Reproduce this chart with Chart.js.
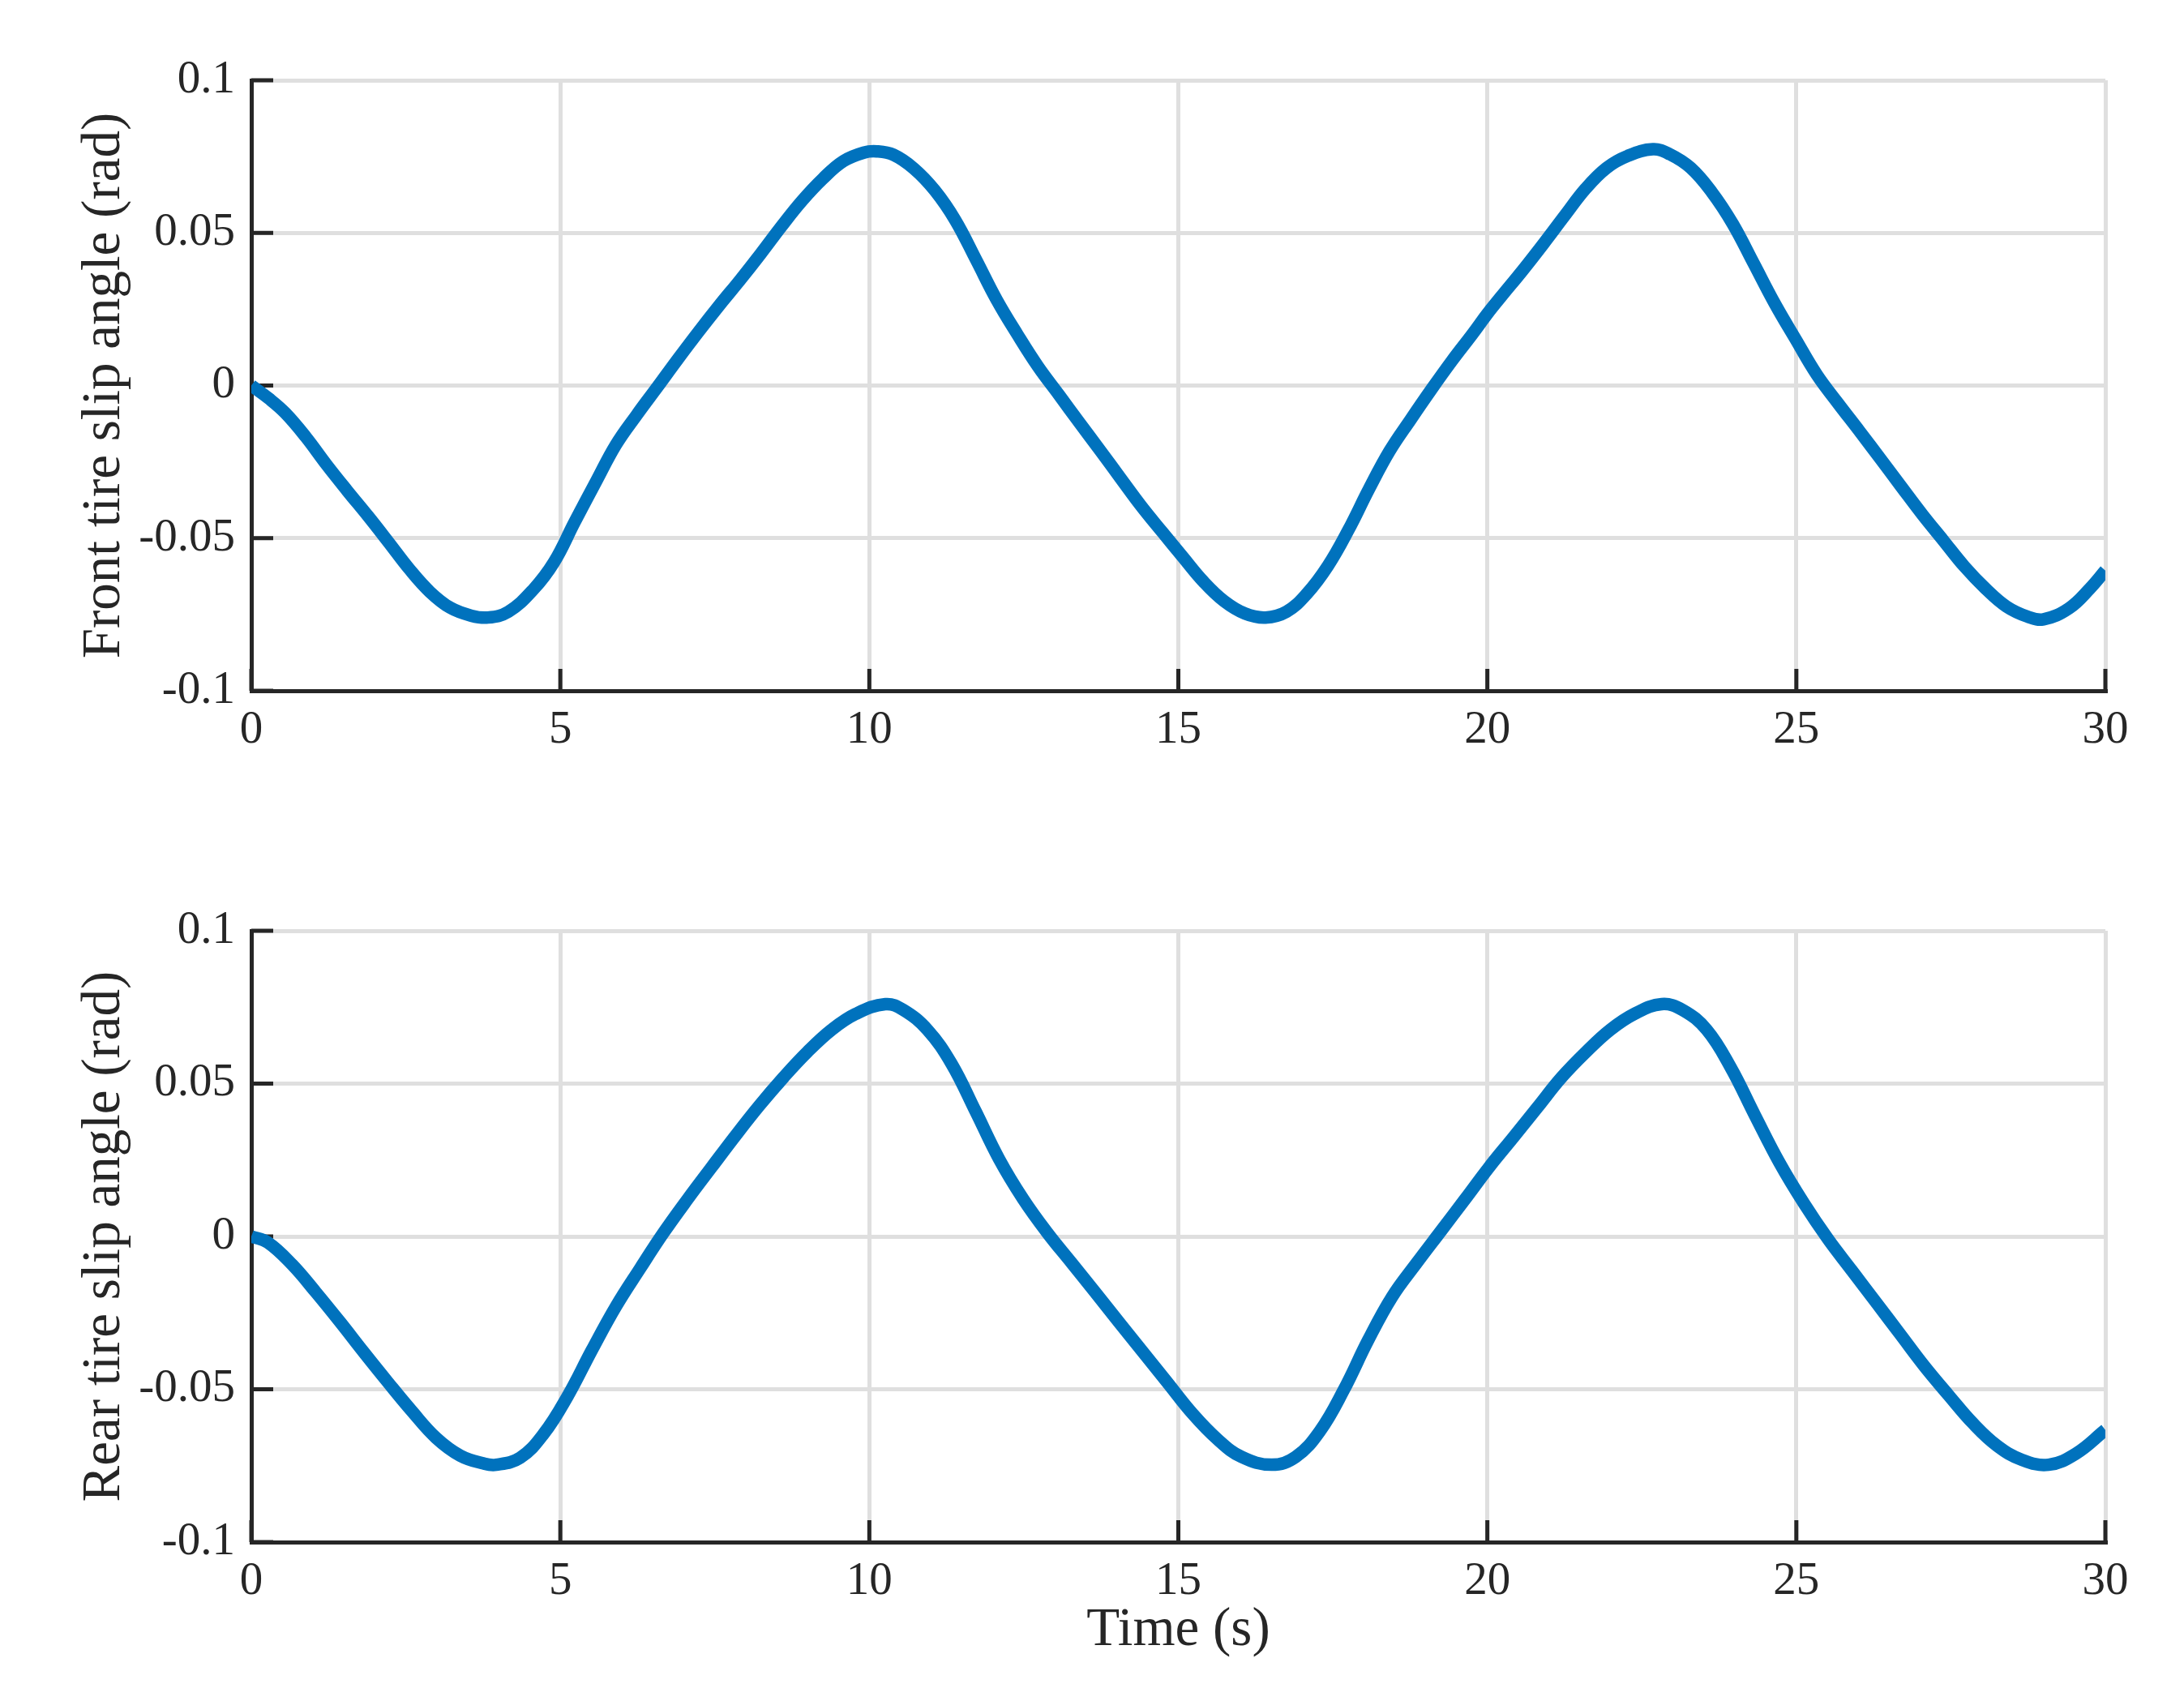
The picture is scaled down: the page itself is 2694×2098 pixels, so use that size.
<!DOCTYPE html>
<html>
<head>
<meta charset="utf-8">
<script src="https://cdn.jsdelivr.net/npm/chart.js@4/dist/chart.umd.min.js"></script>
<style>
  html, body { margin: 0; padding: 0; background: #ffffff; }
  body { width: 2694px; height: 2098px; position: relative; overflow: hidden; }
  canvas { position: absolute; left: 0; }
  #front { top: 0; }
  #rear { top: 1000px; }
</style>
</head>
<body>
<canvas id="front" width="2694" height="1000"></canvas>
<canvas id="rear" width="2694" height="1098"></canvas>
<script>
// ---- Data ----
const frontTime = [0, 0.28, 0.55, 0.88, 1.22, 1.55, 1.89, 2.22, 2.56, 2.89, 3.22, 3.56, 3.83, 4.16, 4.56, 4.9, 5.23, 5.57, 5.9, 6.23, 6.57, 6.9, 7.24, 7.57, 7.91, 8.24, 8.58, 8.91, 9.25, 9.58, 9.91, 10.12, 10.39, 10.72, 11.06, 11.39, 11.73, 12.06, 12.4, 12.73, 13.07, 13.4, 13.74, 14.07, 14.4, 14.74, 15.07, 15.41, 15.74, 16.08, 16.41, 16.75, 17.08, 17.42, 17.75, 18.09, 18.42, 18.76, 19.09, 19.42, 19.76, 20.0, 20.23, 20.57, 20.91, 21.25, 21.59, 21.93, 22.27, 22.68, 22.95, 23.29, 23.63, 23.97, 24.31, 24.65, 24.99, 25.33, 25.67, 26.02, 26.36, 26.7, 27.04, 27.38, 27.72, 28.06, 28.4, 28.74, 29.0, 29.41, 29.75, 30];
const frontSlip = [0, -0.0042, -0.009, -0.0168, -0.026, -0.0344, -0.0428, -0.0513, -0.0602, -0.0676, -0.0728, -0.0754, -0.076, -0.0741, -0.0669, -0.0578, -0.0448, -0.0318, -0.0194, -0.0098, -0.0005, 0.0086, 0.0177, 0.0262, 0.0346, 0.0431, 0.0522, 0.0605, 0.0678, 0.0735, 0.0763, 0.0767, 0.0756, 0.0711, 0.0639, 0.0542, 0.0411, 0.0281, 0.0166, 0.0062, -0.0031, -0.0122, -0.0214, -0.0305, -0.0395, -0.048, -0.0561, -0.0643, -0.0706, -0.0747, -0.076, -0.0741, -0.0682, -0.0591, -0.0474, -0.0337, -0.0214, -0.0111, -0.0014, 0.0079, 0.0169, 0.0235, 0.0293, 0.0377, 0.0465, 0.0556, 0.0645, 0.0713, 0.0752, 0.0774, 0.0758, 0.0713, 0.0634, 0.053, 0.04, 0.0269, 0.0151, 0.0036, -0.0057, -0.0149, -0.024, -0.0332, -0.0423, -0.0508, -0.0593, -0.0665, -0.0724, -0.0757, -0.0766, -0.073, -0.0665, -0.0606];

const rearTime = [0, 0.27, 0.66, 1.05, 1.44, 1.82, 2.21, 2.6, 2.99, 3.38, 3.76, 3.96, 4.35, 4.73, 5.12, 5.51, 5.9, 6.29, 6.67, 7.06, 7.45, 7.84, 8.22, 8.61, 9.0, 9.39, 9.78, 10.26, 10.55, 10.94, 11.33, 11.72, 12.1, 12.49, 12.88, 13.27, 13.66, 14.04, 14.43, 14.82, 15.23, 15.63, 16.02, 16.51, 16.9, 17.29, 17.68, 18.07, 18.46, 18.86, 19.25, 19.64, 20.03, 20.42, 20.81, 21.2, 21.6, 21.99, 22.38, 22.82, 23.16, 23.55, 23.94, 24.33, 24.73, 25.12, 25.51, 25.9, 26.29, 26.68, 27.07, 27.47, 27.86, 28.25, 28.64, 29.08, 29.52, 30];
const rearSlip = [0, -0.002, -0.0092, -0.0184, -0.0281, -0.0379, -0.0477, -0.0572, -0.0659, -0.0717, -0.0743, -0.0747, -0.0724, -0.0646, -0.0522, -0.0372, -0.0229, -0.0105, 0.0012, 0.0122, 0.0227, 0.0331, 0.0428, 0.052, 0.0604, 0.0676, 0.0728, 0.076, 0.0741, 0.0676, 0.0565, 0.0409, 0.0253, 0.0122, 0.0012, -0.0086, -0.0184, -0.0281, -0.0379, -0.0477, -0.058, -0.0663, -0.0721, -0.0747, -0.0721, -0.0637, -0.0501, -0.034, -0.0197, -0.0086, 0.0018, 0.0122, 0.0227, 0.0324, 0.0422, 0.052, 0.0604, 0.0676, 0.0728, 0.076, 0.0741, 0.0676, 0.0552, 0.0396, 0.024, 0.0109, -0.0008, -0.0112, -0.0216, -0.032, -0.0424, -0.0521, -0.0612, -0.0685, -0.073, -0.0747, -0.0711, -0.0633];

const xTickValues = [0, 5, 10, 15, 20, 25, 30];
const xTickLabels = ['0', '5', '10', '15', '20', '25', '30'];
const yTickValues = [-0.1, -0.05, 0, 0.05, 0.1];
const yTickLabels = ['-0.1', '-0.05', '0', '0.05', '0.1'];

const frontYTitle = 'Front tire slip angle (rad)';
const rearYTitle = 'Rear tire slip angle (rad)';
const xTitle = 'Time (s)';

// ---- Styling ----
const FONT = "'Liberation Serif', 'Times New Roman', serif";
const INK = '#262626';
const GRID = '#dfdfdf';
const LINE = '#0072BD';
const TICK_SIZE = 57;
const TITLE_SIZE = 67;

const innerTicks = {
  id: 'innerTicks',
  beforeDatasetsDraw(chart) {
    const { ctx, chartArea, scales } = chart;
    ctx.save();
    ctx.strokeStyle = INK;
    ctx.lineWidth = 5;
    ctx.beginPath();
    for (const v of xTickValues) {
      const px = scales.x.getPixelForValue(v);
      ctx.moveTo(px, chartArea.bottom);
      ctx.lineTo(px, chartArea.bottom - 27);
    }
    for (const v of yTickValues) {
      const py = scales.y.getPixelForValue(v);
      ctx.moveTo(chartArea.left, py);
      ctx.lineTo(chartArea.left + 27, py);
    }
    ctx.stroke();
    ctx.restore();
  }
};

function makeChart(canvasId, times, values, yTitle, opts) {
  const points = times.map((t, i) => ({ x: t, y: values[i] }));
  return new Chart(document.getElementById(canvasId), {
    type: 'line',
    data: {
      datasets: [{
        data: points,
        borderColor: LINE,
        borderWidth: 15.5,
        pointRadius: 0,
        fill: false,
        tension: 0.4,
        borderCapStyle: 'butt',
        borderJoinStyle: 'round'
      }]
    },
    options: {
      responsive: false,
      animation: false,
      devicePixelRatio: 1,
      layout: { padding: { left: 0, right: 97, top: opts.padTop, bottom: 0 } },
      plugins: { legend: { display: false }, tooltip: { enabled: false } },
      scales: {
        x: {
          type: 'linear',
          min: 0, max: 30,
          afterBuildTicks: (s) => { s.ticks = xTickValues.map(v => ({ value: v })); },
          afterFit: (s) => { s.height = opts.xHeight; },
          ticks: {
            padding: 15,
            color: INK,
            font: { family: FONT, size: TICK_SIZE },
            maxRotation: 0,
            autoSkip: false,
            callback: (v) => { const i = xTickValues.indexOf(v); return i >= 0 ? xTickLabels[i] : ''; }
          },
          grid: { color: GRID, lineWidth: 5, drawTicks: false },
          border: { display: true, color: INK, width: 5 },
          title: {
            display: opts.showXTitle,
            text: xTitle,
            color: INK,
            font: { family: FONT, size: TITLE_SIZE },
            padding: { top: 0, bottom: 46 }
          }
        },
        y: {
          type: 'linear',
          min: -0.1, max: 0.1,
          afterBuildTicks: (s) => { s.ticks = yTickValues.map(v => ({ value: v })); },
          afterFit: (s) => { s.width = 310; },
          ticks: {
            padding: 20,
            color: INK,
            font: { family: FONT, size: TICK_SIZE },
            autoSkip: false,
            callback: (v) => {
              const i = yTickValues.findIndex(t => Math.abs(t - v) < 1e-9);
              return i >= 0 ? yTickLabels[i] : '';
            }
          },
          grid: { color: GRID, lineWidth: 5, drawTicks: false },
          border: { display: true, color: INK, width: 5 },
          title: {
            display: true,
            text: yTitle,
            color: INK,
            font: { family: FONT, size: TITLE_SIZE },
            padding: { top: 89, bottom: 0 }
          }
        }
      }
    },
    plugins: [innerTicks]
  });
}

makeChart('front', frontTime, frontSlip, frontYTitle, { padTop: 99, xHeight: 148, showXTitle: false });
makeChart('rear', rearTime, rearSlip, rearYTitle, { padTop: 148, xHeight: 196, showXTitle: true });
</script>
</body>
</html>
